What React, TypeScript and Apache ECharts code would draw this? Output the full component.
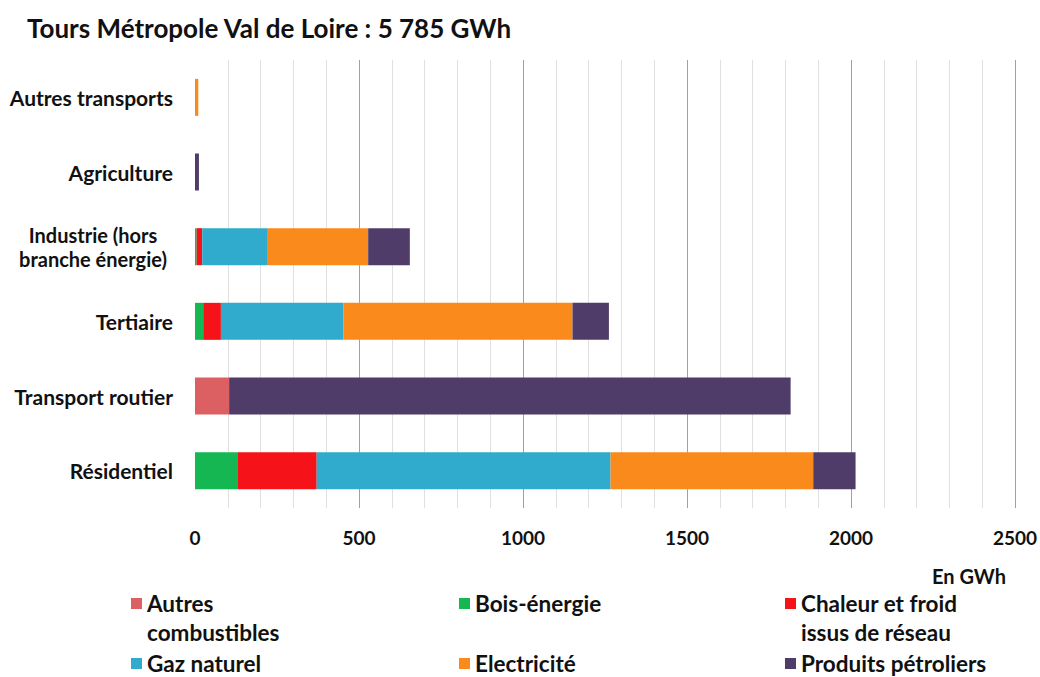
import React, { useEffect, useRef } from "react";
import * as echarts from "echarts";

const categories = [
  "Résidentiel",
  "Transport routier",
  "Tertiaire",
  "Industrie (hors branche énergie)",
  "Agriculture",
  "Autres transports",
];

const seriesNames = [
  "Autres combustibles",
  "Bois-énergie",
  "Chaleur et froid issus de réseau",
  "Gaz naturel",
  "Electricité",
  "Produits pétroliers",
];

const autresCombustibles = [0, 104, 0, 0, 0, 0];
const boisEnergie = [129, 0, 25, 5, 0, 0];
const chaleurFroid = [242, 0, 54, 17, 0, 0];
const gazNaturel = [896, 0, 373, 200, 0, 0];
const electricite = [618, 0, 699, 306, 0, 10];
const produitsPetroliers = [129, 1712, 111, 127, 12, 0];

const xTicks = [0, 500, 1000, 1500, 2000, 2500];

const colors = ["#dc5f62", "#14b752", "#f51218", "#30aacd", "#fb8a1c", "#4f3c68"];

const FONT = "Lato";

export default function App() {
  const ref = useRef<HTMLDivElement>(null);
  useEffect(() => {
    if (!ref.current) return;
    const chart = echarts.init(ref.current, undefined, { renderer: "svg" });
    const values = [
      autresCombustibles,
      boisEnergie,
      chaleurFroid,
      gazNaturel,
      electricite,
      produitsPetroliers,
    ];
    const legendFirst = [
      "Autres",
      "Bois-énergie",
      "Chaleur et froid",
      "Gaz naturel",
      "Electricité",
      "Produits pétroliers",
    ];
    const colX = [131, 459, 785];
    const rowY = [603, 603, 603, 663, 663, 663];
    const legendText = {
      fontFamily: FONT,
      fontWeight: "bold",
      fontSize: 22.5,
      color: "#111",
      lineHeight: 22,
    };
    chart.setOption({
      animation: false,
      backgroundColor: "#ffffff",
      color: colors,
      title: {
        text: "Tours Métropole Val de Loire : 5 785 GWh",
        left: 22,
        top: 10,
        textStyle: { fontFamily: FONT, fontWeight: "bold", fontSize: 26, color: "#111" },
      },
      grid: { left: 195, right: 25, top: 60, bottom: 169 },
      legend: seriesNames.map((name, i) => ({
        left: colX[i % 3],
        top: rowY[i] - 11,
        padding: 0,
        orient: "horizontal",
        icon: "rect",
        itemWidth: 11,
        itemHeight: 11,
        selectedMode: false,
        data: [name],
        formatter: () => legendFirst[i],
        textStyle: legendText,
      })),
      xAxis: {
        type: "value",
        min: 0,
        max: 2500,
        interval: 500,
        axisLine: { show: false },
        axisTick: { show: false },
        axisLabel: {
          margin: 20,
          fontFamily: FONT,
          fontWeight: "bold",
          fontSize: 19,
          color: "#111",
          formatter: (v: number) => (xTicks.includes(v) ? String(v) : ""),
        },
        splitLine: { show: true, showMinLine: false, lineStyle: { color: "#a0a0a0", width: 1 } },
        minorTick: { show: false, splitNumber: 5 },
        minorSplitLine: { show: true, lineStyle: { color: "#e0e0e0", width: 1 } },
      },
      yAxis: {
        type: "category",
        data: categories,
        axisLine: { show: false },
        axisTick: { show: false },
        axisLabel: {
          margin: 22,
          fontFamily: FONT,
          fontWeight: "bold",
          fontSize: 21,
          color: "#111",
          lineHeight: 24,
          formatter: (v: string) =>
            v.startsWith("Industrie")
              ? "{c|Industrie (hors}\n{c|branche énergie)}"
              : v,
          rich: {
            c: {
              width: 160,
              align: "center",
              fontFamily: FONT,
              fontWeight: "bold",
              fontSize: 20,
              color: "#111",
              lineHeight: 24,
            },
          },
        },
      },
      graphic: [
        {
          type: "text",
          left: 932,
          top: 566,
          style: {
            text: "En GWh",
            fontFamily: FONT,
            fontWeight: "bold",
            fontSize: 20,
            fill: "#111",
          },
        },
        {
          type: "text",
          left: 147,
          top: 632 - 11,
          style: { text: "combustibles", ...legendText, fill: "#111" },
        },
        {
          type: "text",
          left: 801,
          top: 632 - 11,
          style: { text: "issus de réseau", ...legendText, fill: "#111" },
        },
      ],
      series: seriesNames.map((name, i) => ({
        name,
        type: "bar",
        stack: "total",
        barWidth: 37,
        data: values[i],
        itemStyle: { color: colors[i] },
      })),
    });
    return () => chart.dispose();
  }, []);
  return (
    <div
      ref={ref}
      style={{ position: "fixed", left: 0, top: 0, width: 1040, height: 677 }}
    />
  );
}
